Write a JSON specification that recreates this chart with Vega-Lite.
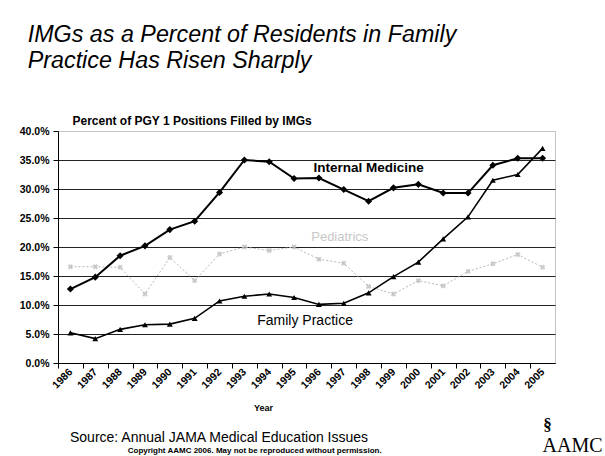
{
  "$schema": "https://vega.github.io/schema/vega-lite/v6.json",
  "padding": {"left": 18, "top": 23, "right": 5, "bottom": 0},
  "background": "white",
  "title": {
    "text": ["IMGs as a Percent of Residents in Family", "Practice Has Risen Sharply"],
    "anchor": "start", "frame": "bounds", "dx": 9,
    "font": "Liberation Sans", "fontSize": 23.3, "fontStyle": "italic", "fontWeight": "normal",
    "lineHeight": 26, "offset": 40, "color": "black"
  },
  "datasets": {
    "lines": [
      {"year": "1986", "series": "Internal Medicine", "value": 12.75},
      {"year": "1987", "series": "Internal Medicine", "value": 14.8},
      {"year": "1988", "series": "Internal Medicine", "value": 18.5},
      {"year": "1989", "series": "Internal Medicine", "value": 20.2},
      {"year": "1990", "series": "Internal Medicine", "value": 23.0},
      {"year": "1991", "series": "Internal Medicine", "value": 24.45},
      {"year": "1992", "series": "Internal Medicine", "value": 29.4},
      {"year": "1993", "series": "Internal Medicine", "value": 35.0},
      {"year": "1994", "series": "Internal Medicine", "value": 34.7},
      {"year": "1995", "series": "Internal Medicine", "value": 31.8},
      {"year": "1996", "series": "Internal Medicine", "value": 31.9},
      {"year": "1997", "series": "Internal Medicine", "value": 29.9},
      {"year": "1998", "series": "Internal Medicine", "value": 27.9},
      {"year": "1999", "series": "Internal Medicine", "value": 30.2},
      {"year": "2000", "series": "Internal Medicine", "value": 30.8},
      {"year": "2001", "series": "Internal Medicine", "value": 29.3},
      {"year": "2002", "series": "Internal Medicine", "value": 29.3},
      {"year": "2003", "series": "Internal Medicine", "value": 34.1},
      {"year": "2004", "series": "Internal Medicine", "value": 35.3},
      {"year": "2005", "series": "Internal Medicine", "value": 35.3},
      {"year": "1986", "series": "Family Practice", "value": 5.2},
      {"year": "1987", "series": "Family Practice", "value": 4.2},
      {"year": "1988", "series": "Family Practice", "value": 5.8},
      {"year": "1989", "series": "Family Practice", "value": 6.6},
      {"year": "1990", "series": "Family Practice", "value": 6.7},
      {"year": "1991", "series": "Family Practice", "value": 7.7},
      {"year": "1992", "series": "Family Practice", "value": 10.7},
      {"year": "1993", "series": "Family Practice", "value": 11.5},
      {"year": "1994", "series": "Family Practice", "value": 11.9},
      {"year": "1995", "series": "Family Practice", "value": 11.3},
      {"year": "1996", "series": "Family Practice", "value": 10.1},
      {"year": "1997", "series": "Family Practice", "value": 10.3},
      {"year": "1998", "series": "Family Practice", "value": 12.1},
      {"year": "1999", "series": "Family Practice", "value": 14.9},
      {"year": "2000", "series": "Family Practice", "value": 17.4},
      {"year": "2001", "series": "Family Practice", "value": 21.4},
      {"year": "2002", "series": "Family Practice", "value": 25.2},
      {"year": "2003", "series": "Family Practice", "value": 31.5},
      {"year": "2004", "series": "Family Practice", "value": 32.5},
      {"year": "2005", "series": "Family Practice", "value": 37.0},
      {"year": "1986", "series": "Pediatrics", "value": 16.6},
      {"year": "1987", "series": "Pediatrics", "value": 16.6},
      {"year": "1988", "series": "Pediatrics", "value": 16.5},
      {"year": "1989", "series": "Pediatrics", "value": 11.9},
      {"year": "1990", "series": "Pediatrics", "value": 18.2},
      {"year": "1991", "series": "Pediatrics", "value": 14.2},
      {"year": "1992", "series": "Pediatrics", "value": 18.8},
      {"year": "1993", "series": "Pediatrics", "value": 20.0},
      {"year": "1994", "series": "Pediatrics", "value": 19.4},
      {"year": "1995", "series": "Pediatrics", "value": 20.0},
      {"year": "1996", "series": "Pediatrics", "value": 17.9},
      {"year": "1997", "series": "Pediatrics", "value": 17.2},
      {"year": "1998", "series": "Pediatrics", "value": 13.2},
      {"year": "1999", "series": "Pediatrics", "value": 11.9},
      {"year": "2000", "series": "Pediatrics", "value": 14.2},
      {"year": "2001", "series": "Pediatrics", "value": 13.3},
      {"year": "2002", "series": "Pediatrics", "value": 15.8},
      {"year": "2003", "series": "Pediatrics", "value": 17.1},
      {"year": "2004", "series": "Pediatrics", "value": 18.7},
      {"year": "2005", "series": "Pediatrics", "value": 16.5}
    ],
    "labels": [
      {"year": "1998", "value": 33.7, "label": "Internal Medicine"},
      {"year": "1997", "value": 21.7, "label": "Pediatrics"},
      {"year": "1995", "value": 7.3, "label": "Family Practice"},
      {"year": "2005", "value": -15.4, "label": "AAMC"},
      {"year": "2005", "value": -11.6, "label": "§"}
    ]
  },
  "vconcat": [
    {
      "title": {
        "text": "Copyright AAMC 2006. May not be reproduced without permission.",
        "orient": "bottom", "anchor": "start", "frame": "bounds", "dx": 109, "offset": -10,
        "font": "Liberation Sans", "fontSize": 8, "fontWeight": "bold", "color": "black"
      },
      "vconcat": [
        {
          "title": {
            "text": "Source: Annual JAMA Medical Education Issues",
            "orient": "bottom", "anchor": "start", "frame": "group", "dx": 12, "offset": -25,
            "font": "Liberation Sans", "fontSize": 14, "fontWeight": "normal", "color": "black"
          },
          "width": 497,
          "height": 232,
          "data": {"name": "lines"},
          "encoding": {
            "x": {
              "field": "year", "type": "ordinal",
              "scale": {"type": "point", "padding": 0.5},
              "axis": {
                "title": "Year", "titleX": 205, "titleY": 47, "titleAlign": "center", "titleBaseline": "alphabetic",
                "titleFont": "Liberation Sans", "titleFontSize": 9, "titleFontWeight": "bold", "titleColor": "black",
                "labelAngle": -45, "labelAlign": "right", "labelBaseline": "middle",
                "labelFont": "Liberation Sans", "labelFontSize": 10.5, "labelFontWeight": "bold", "labelColor": "black",
                "labelPadding": 2, "labelOverlap": false, "labelBound": false,
                "tickOffset": -12.425, "labelOffset": 12.425,
                "tickSize": 5, "tickColor": "black", "domainColor": "black", "grid": false
              }
            },
            "y": {
              "field": "value", "type": "quantitative",
              "scale": {"domain": [0, 40], "nice": false},
              "axis": {
                "title": "Percent of PGY 1 Positions Filled by IMGs",
                "titleAngle": 0, "titleAlign": "left", "titleBaseline": "alphabetic", "titleX": 14, "titleY": -7,
                "titleFont": "Liberation Sans", "titleFontSize": 12, "titleFontWeight": "bold", "titleColor": "black",
                "values": [0, 5, 10, 15, 20, 25, 30, 35, 40],
                "labelExpr": "format(datum.value, '.1f') + '%'",
                "labelFont": "Liberation Sans", "labelFontSize": 10.5, "labelFontWeight": "bold", "labelColor": "black",
                "labelPadding": 4, "tickSize": 5, "tickColor": "black", "domainColor": "black",
                "grid": true, "gridWidth": 1,
                "gridColor": {"condition": {"test": "datum.value >= 40", "value": "transparent"}, "value": "#222222"}
              }
            }
          },
          "layer": [
            {
              "transform": [{"filter": "datum.series === 'Pediatrics'"}],
              "mark": {"type": "line", "color": "#b8b8b8", "strokeWidth": 1, "strokeDash": [2, 2]}
            },
            {
              "transform": [{"filter": "datum.series === 'Pediatrics'"}],
              "mark": {"type": "point", "shape": "cross", "angle": 45, "filled": true, "color": "#b8b8b8", "size": 30}
            },
            {
              "transform": [{"filter": "datum.series === 'Family Practice'"}],
              "mark": {"type": "line", "color": "black", "strokeWidth": 1.6}
            },
            {
              "transform": [{"filter": "datum.series === 'Family Practice'"}],
              "mark": {"type": "point", "shape": "triangle-up", "filled": true, "color": "black", "size": 35, "opacity": 1}
            },
            {
              "transform": [{"filter": "datum.series === 'Internal Medicine'"}],
              "mark": {"type": "line", "color": "black", "strokeWidth": 2}
            },
            {
              "transform": [{"filter": "datum.series === 'Internal Medicine'"}],
              "mark": {"type": "point", "shape": "diamond", "filled": true, "color": "black", "size": 50, "opacity": 1}
            },
            {
              "data": {"name": "labels"},
              "transform": [{"filter": "datum.label === 'Internal Medicine'"}],
              "mark": {"type": "text", "font": "Liberation Sans", "fontSize": 13.5, "fontWeight": "bold", "color": "black", "align": "center", "baseline": "middle"},
              "encoding": {"text": {"field": "label"}}
            },
            {
              "data": {"name": "labels"},
              "transform": [{"filter": "datum.label === 'Pediatrics'"}],
              "mark": {"type": "text", "font": "Liberation Sans", "fontSize": 13, "color": "#c8c8c8", "align": "center", "baseline": "middle", "dx": -4},
              "encoding": {"text": {"field": "label"}}
            },
            {
              "data": {"name": "labels"},
              "transform": [{"filter": "datum.label === 'Family Practice'"}],
              "mark": {"type": "text", "font": "Liberation Sans", "fontSize": 14, "color": "black", "align": "center", "baseline": "middle", "dx": 11},
              "encoding": {"text": {"field": "label"}}
            },
            {
              "data": {"name": "labels"},
              "transform": [{"filter": "datum.label === 'AAMC'"}],
              "mark": {"type": "text", "font": "Liberation Serif", "fontSize": 20, "color": "black", "align": "center", "baseline": "alphabetic", "dx": 30},
              "encoding": {"text": {"field": "label"}}
            },
            {
              "data": {"name": "labels"},
              "transform": [{"filter": "datum.label === '§'"}],
              "mark": {"type": "text", "font": "Liberation Serif", "fontSize": 17, "fontWeight": "bold", "color": "black", "align": "center", "baseline": "alphabetic", "dx": 5},
              "encoding": {"text": {"field": "label"}}
            }
          ]
        }
      ]
    }
  ],
  "config": {
    "font": "Liberation Sans",
    "view": {"stroke": "#888888", "strokeDash": [1, 1], "strokeWidth": 1}
  }
}
